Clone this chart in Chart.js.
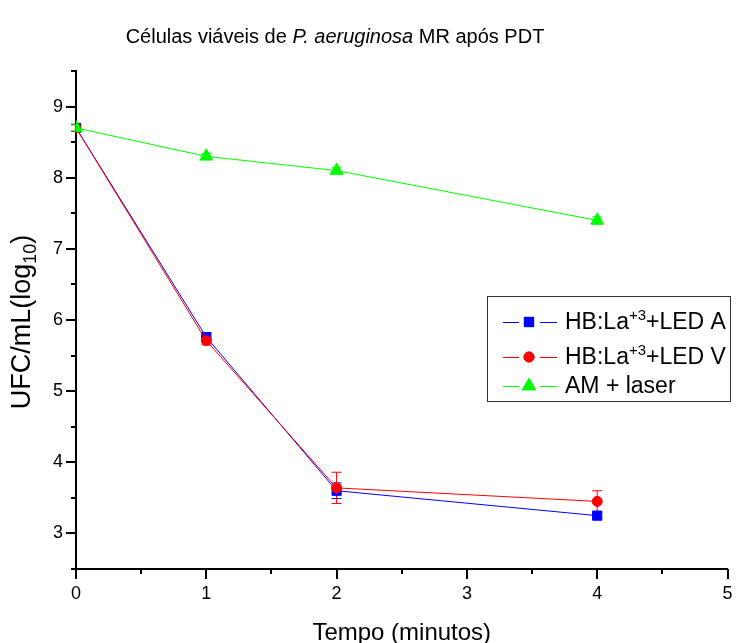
<!DOCTYPE html>
<html>
<head>
<meta charset="utf-8">
<script src="https://cdn.jsdelivr.net/npm/chart.js@4.4.0/dist/chart.umd.min.js"></script>
<style>
  html, body { margin: 0; padding: 0; background: #fff; }
  #wrap { width: 736px; height: 643px; }
</style>
</head>
<body>
<div id="wrap"><canvas id="myChart"></canvas></div>
<script>
// dados
const tempos = [0, 1, 2, 4];
const ledA = [8.70, 5.76, 3.60, 3.25];
const ledAErr = [0.05, 0.06, 0.11, 0.03];
const ledV = [8.70, 5.71, 3.64, 3.45];
const ledVErr = [0.05, 0.06, 0.22, 0.15];
const amLaser = [8.70, 8.30, 8.10, 7.40];
const amLaserErr = [0.04, 0.04, 0.04, 0.05];
const xTicks = [0, 1, 2, 3, 4, 5];
const yTicks = [3, 4, 5, 6, 7, 8, 9];

const FONT = '"Liberation Sans", Arial, sans-serif';

function pontos(vals) {
    return tempos.map((t, i) => ({ x: t, y: vals[i] }));
}

// barras de erro
const errorBars = {
    id: 'errorBars',
    beforeDatasetsDraw(chart) {
        const ctx = chart.ctx;
        const yScale = chart.scales.y;
        chart.data.datasets.forEach((ds, di) => {
            const meta = chart.getDatasetMeta(di);
            ctx.save();
            ctx.strokeStyle = ds.borderColor;
            ctx.lineWidth = 1;
            meta.data.forEach((pt, i) => {
                const v = ds.data[i].y, e = ds.err[i];
                const y1 = yScale.getPixelForValue(v + e);
                const y2 = yScale.getPixelForValue(v - e);
                ctx.beginPath();
                ctx.moveTo(pt.x, y1); ctx.lineTo(pt.x, y2);
                ctx.moveTo(pt.x - 5, y1); ctx.lineTo(pt.x + 5, y1);
                ctx.moveTo(pt.x - 5, y2); ctx.lineTo(pt.x + 5, y2);
                ctx.stroke();
            });
            ctx.restore();
        });
    }
};

// marcas dos eixos (maiores e menores)
const axisTicks = {
    id: 'axisTicks',
    afterDraw(chart) {
        const ctx = chart.ctx;
        const xs = chart.scales.x, ys = chart.scales.y;
        const area = chart.chartArea;
        ctx.save();
        ctx.strokeStyle = '#000';
        ctx.lineWidth = 2;
        ctx.beginPath();
        for (let v = xs.min; v <= xs.max + 1e-9; v += 0.5) {
            const px = Math.round(xs.getPixelForValue(v));
            const len = Number.isInteger(v) ? 10 : 5;
            ctx.moveTo(px, area.bottom); ctx.lineTo(px, area.bottom + len);
        }
        for (let v = ys.min; v <= ys.max + 1e-9; v += 0.5) {
            const py = Math.round(ys.getPixelForValue(v));
            const len = Number.isInteger(v) ? 10 : 5;
            ctx.moveTo(area.left, py); ctx.lineTo(area.left - len, py);
        }
        ctx.stroke();
        ctx.restore();
    }
};

// títulos com itálico, subscrito e legenda
const textos = {
    id: 'textos',
    afterDraw(chart) {
        const ctx = chart.ctx;
        const area = chart.chartArea;
        ctx.save();
        ctx.fillStyle = '#000';
        ctx.textBaseline = 'alphabetic';

        // título
        const partes = [
            ['Células viáveis de ', 'normal'],
            ['P. aeruginosa', 'italic'],
            [' MR após PDT', 'normal']
        ];
        let total = 0;
        partes.forEach(p => { ctx.font = p[1] + ' 20px ' + FONT; total += ctx.measureText(p[0]).width; });
        let x = 335 - total / 2;
        partes.forEach(p => {
            ctx.font = p[1] + ' 20px ' + FONT;
            ctx.fillText(p[0], x, 43);
            x += ctx.measureText(p[0]).width;
        });

        // eixo x
        ctx.font = '24px ' + FONT;
        ctx.textAlign = 'center';
        ctx.fillText('Tempo (minutos)', (area.left + area.right) / 2, 640);

        // eixo y
        ctx.save();
        ctx.translate(30, 322);
        ctx.rotate(-Math.PI / 2);
        ctx.textAlign = 'left';
        ctx.font = '27px ' + FONT;
        const a = 'UFC/mL(log';
        const wa = ctx.measureText(a).width;
        ctx.font = '18px ' + FONT;
        const wb = ctx.measureText('10').width;
        ctx.font = '27px ' + FONT;
        const wc = ctx.measureText(')').width;
        let sx = -(wa + wb + wc) / 2;
        ctx.fillText(a, sx, 0);
        sx += wa;
        ctx.font = '18px ' + FONT;
        ctx.fillText('10', sx, 6);
        sx += wb;
        ctx.font = '27px ' + FONT;
        ctx.fillText(')', sx, 0);
        ctx.restore();

        // legenda
        ctx.textAlign = 'left';
        ctx.strokeStyle = '#333';
        ctx.lineWidth = 1;
        ctx.strokeRect(487.5, 296.5, 243, 105);
        const linhas = [
            { y: 322, base: 329, sup: true, txt: ['HB:La', '+3', '+LED A'] },
            { y: 357, base: 364, sup: true, txt: ['HB:La', '+3', '+LED V'] },
            { y: 386, base: 393, sup: false, txt: ['AM + laser'] }
        ];
        chart.data.datasets.forEach((ds, i) => {
            const l = linhas[i];
            ctx.strokeStyle = ds.borderColor;
            ctx.lineWidth = 1;
            ctx.beginPath();
            ctx.moveTo(503, l.y + 0.5); ctx.lineTo(519, l.y + 0.5);
            ctx.moveTo(540, l.y + 0.5); ctx.lineTo(557, l.y + 0.5);
            ctx.stroke();
            Chart.helpers.drawPoint(ctx, {
                pointStyle: ds.pointStyle, radius: ds.pointRadius, borderWidth: 1, rotation: 0
            }, 529, l.y);
            ctx.fillStyle = ds.backgroundColor;
            ctx.strokeStyle = ds.borderColor;
            ctx.fill();
            ctx.stroke();

            ctx.fillStyle = '#000';
            let tx = 565;
            ctx.font = '23px ' + FONT;
            ctx.fillText(l.txt[0], tx, l.base);
            if (l.sup) {
                tx += ctx.measureText(l.txt[0]).width;
                ctx.font = '15px ' + FONT;
                ctx.fillText(l.txt[1], tx, l.base - 9);
                tx += ctx.measureText(l.txt[1]).width;
                ctx.font = '23px ' + FONT;
                ctx.fillText(l.txt[2], tx, l.base);
            }
        });
        ctx.restore();
    }
};

const ctx = document.getElementById('myChart').getContext('2d');

new Chart(ctx, {
    type: 'line',
    data: {
        datasets: [{
            label: 'HB:La+3+LED A',
            data: pontos(ledA),
            err: ledAErr,
            borderColor: '#0000ff',
            backgroundColor: '#0000ff',
            borderWidth: 1,
            pointStyle: 'rect',
            pointRadius: 6.5,
            order: 3
        }, {
            label: 'HB:La+3+LED V',
            data: pontos(ledV),
            err: ledVErr,
            borderColor: '#ff0000',
            backgroundColor: '#ff0000',
            borderWidth: 1,
            pointStyle: 'circle',
            pointRadius: 5,
            order: 2
        }, {
            label: 'AM + laser',
            data: pontos(amLaser),
            err: amLaserErr,
            borderColor: '#00ff00',
            backgroundColor: '#00ff00',
            borderWidth: 1,
            pointStyle: 'triangle',
            pointRadius: 7.5,
            order: 1
        }]
    },
    options: {
        responsive: true,
        maintainAspectRatio: false,
        animation: false,
        layout: {
            padding: { left: 0, top: 71, right: 8, bottom: 0 }
        },
        plugins: {
            legend: { display: false },
            title: { display: false },
            tooltip: { enabled: false }
        },
        elements: {
            line: { tension: 0 },
            point: { borderWidth: 1 }
        },
        scales: {
            x: {
                type: 'linear',
                min: 0,
                max: 5,
                afterFit: s => { s.height = 74; s.paddingRight = 0; s.paddingLeft = 0; },
                afterBuildTicks: s => { s.ticks = xTicks.map(v => ({ value: v })); },
                grid: { display: false, drawTicks: false },
                border: { display: true, color: '#000', width: 2 },
                ticks: {
                    color: '#000',
                    padding: 14,
                    font: { family: FONT, size: 18 }
                }
            },
            y: {
                type: 'linear',
                min: 2.5,
                max: 9.5,
                afterFit: s => { s.width = 76; s.paddingTop = 0; s.paddingBottom = 0; },
                afterBuildTicks: s => { s.ticks = yTicks.map(v => ({ value: v })); },
                grid: { display: false, drawTicks: false },
                border: { display: true, color: '#000', width: 2 },
                ticks: {
                    color: '#000',
                    padding: 13,
                    font: { family: FONT, size: 18 }
                }
            }
        }
    },
    plugins: [errorBars, axisTicks, textos]
});
</script>
</body>
</html>
